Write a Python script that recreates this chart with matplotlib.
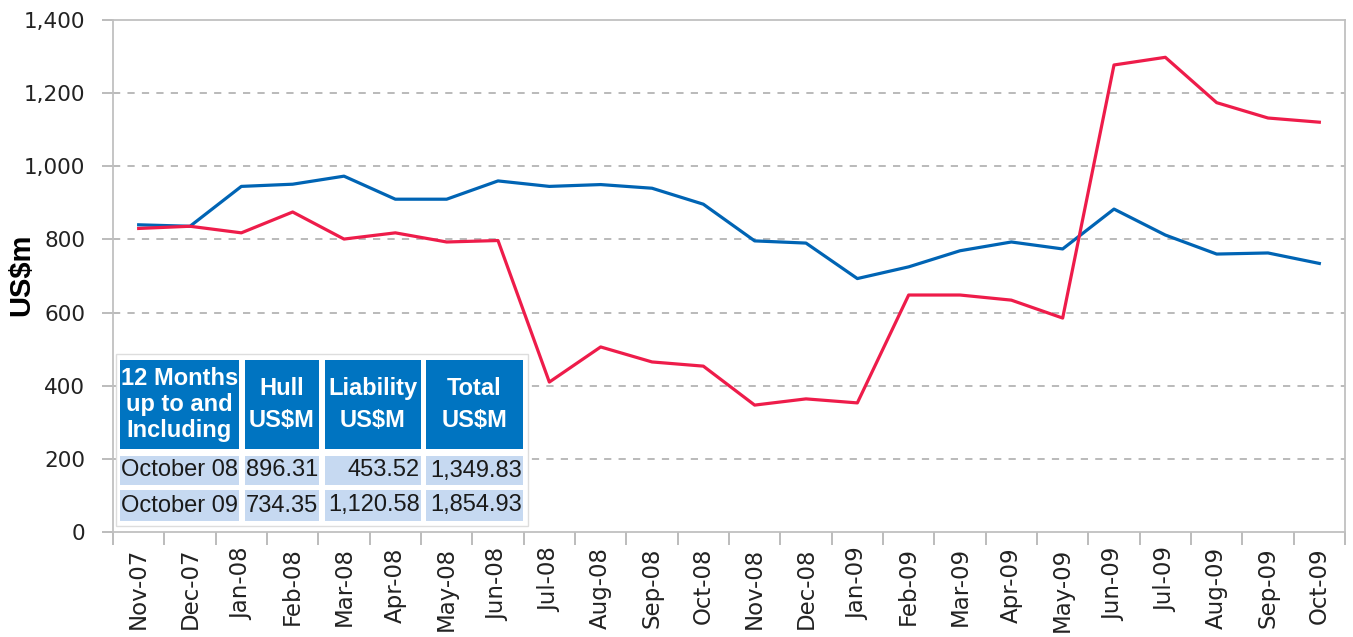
import matplotlib
matplotlib.use("Agg")
from matplotlib import pyplot as plt
from matplotlib.patches import Rectangle
from matplotlib.ticker import FuncFormatter, FixedLocator
import numpy as np

W, H = 1353, 637

months = ["Nov-07", "Dec-07", "Jan-08", "Feb-08", "Mar-08", "Apr-08", "May-08", "Jun-08",
          "Jul-08", "Aug-08", "Sep-08", "Oct-08", "Nov-08", "Dec-08", "Jan-09", "Feb-09",
          "Mar-09", "Apr-09", "May-09", "Jun-09", "Jul-09", "Aug-09", "Sep-09", "Oct-09"]

# Hull (blue) and liability (red), rolling 12 months, US$m
hull = [840, 836, 945, 951, 973, 910, 910, 960, 945, 950, 940, 896.31,
        796, 790, 693, 725, 769, 793, 774, 883, 812, 760, 763, 734.35]
liability = [830, 836, 818, 875, 801, 818, 793, 797, 410, 506, 465, 453.52,
             347, 364, 353, 648, 648, 634, 585, 1277, 1298, 1174, 1132, 1120.58]

table_header = ["12 Months\nup to and\nIncluding", "Hull\nUS$M", "Liability\nUS$M", "Total\nUS$M"]
table_rows = [["October 08", "896.31", "453.52", "1,349.83"],
              ["October 09", "734.35", "1,120.58", "1,854.93"]]

BLUE = "#0064B4"
RED = "#EE1C4A"
GRID = "#B4B4B4"

fig = plt.figure(figsize=(W / 100, H / 100), dpi=100)
ax = fig.add_axes([113 / W, 1 - 532 / H, (1345 - 113) / W, (532 - 20) / H])

x = np.arange(len(months))
ax.plot(x, hull, color=BLUE, lw=2.3, zorder=3)
ax.plot(x, liability, color=RED, lw=2.3, zorder=3)

ax.set_xlim(-0.5, len(months) - 0.5)
ax.set_ylim(0, 1400)
ax.set_yticks(range(0, 1401, 200))
ax.yaxis.set_major_formatter(FuncFormatter(lambda v, p: f"{int(v):,}"))
for yv in range(200, 1400, 200):
    ax.axhline(yv, color=GRID, lw=1.3, ls=(0, (4, 4)), zorder=1)

ax.set_xticks(x)
ax.set_xticklabels(months, rotation=90, fontsize=16.5, color="#222222")
ax.xaxis.set_minor_locator(FixedLocator(np.arange(-0.5, len(months), 1.0)))
ax.tick_params(axis="x", which="major", length=0, pad=11)
ax.tick_params(axis="x", which="minor", length=9, color="#B0B0B0", width=1.2)
ax.tick_params(axis="y", length=8, color="#B0B0B0", width=1.2, pad=12,
               labelsize=15.5, labelcolor="#222222")

for s in ax.spines.values():
    s.set_color("#C0C0C0")
    s.set_linewidth(1.3)

fig.text(21 / W, 1 - 275 / H, "US$m", rotation=90, ha="center", va="center",
         fontsize=21, fontweight="bold", family="Liberation Sans")


def px(xp, yp):
    return xp / W, 1 - yp / H


def cell(x0, y0, x1, y1, color):
    fx, fy = px(x0, y1)
    fig.add_artist(Rectangle((fx, fy), (x1 - x0) / W, (y1 - y0) / H,
                             transform=fig.transFigure, facecolor=color,
                             edgecolor="none", zorder=5))


# Inset table
fx, fy = px(116, 526)
fig.add_artist(Rectangle((fx, fy), (528 - 116) / W, (526 - 354) / H,
                         transform=fig.transFigure, facecolor="white",
                         edgecolor="#DDDDDD", lw=1, zorder=4))
cols = [(120, 239), (245, 319), (325, 421), (426, 523)]
head_y = (360, 449)
row_y = [(456, 485), (490, 521)]

for i, (c0, c1) in enumerate(cols):
    cell(c0, head_y[0], c1, head_y[1], "#0074C1")
    tx, ty = px((c0 + c1) / 2, (head_y[0] + head_y[1]) / 2)
    fig.text(tx, ty, table_header[i], ha="center", va="center", color="white",
             fontsize=17, fontweight="bold", family="Liberation Sans",
             linespacing=1.15 if i == 0 else 1.5, zorder=6)

for r, (r0, r1) in enumerate(row_y):
    for i, (c0, c1) in enumerate(cols):
        cell(c0, r0, c1, r1, "#C6D9F1")
        if i == 0:
            tx, ty = px(c0 + 1, (r0 + r1) / 2)
            ha = "left"
        else:
            tx, ty = px(c1 - 1, (r0 + r1) / 2)
            ha = "right"
        fig.text(tx, ty, table_rows[r][i], ha=ha, va="center", color="#1A1A1A",
                 fontsize=17, family="Liberation Sans", zorder=6)

fig.savefig("out.png", dpi=100)
